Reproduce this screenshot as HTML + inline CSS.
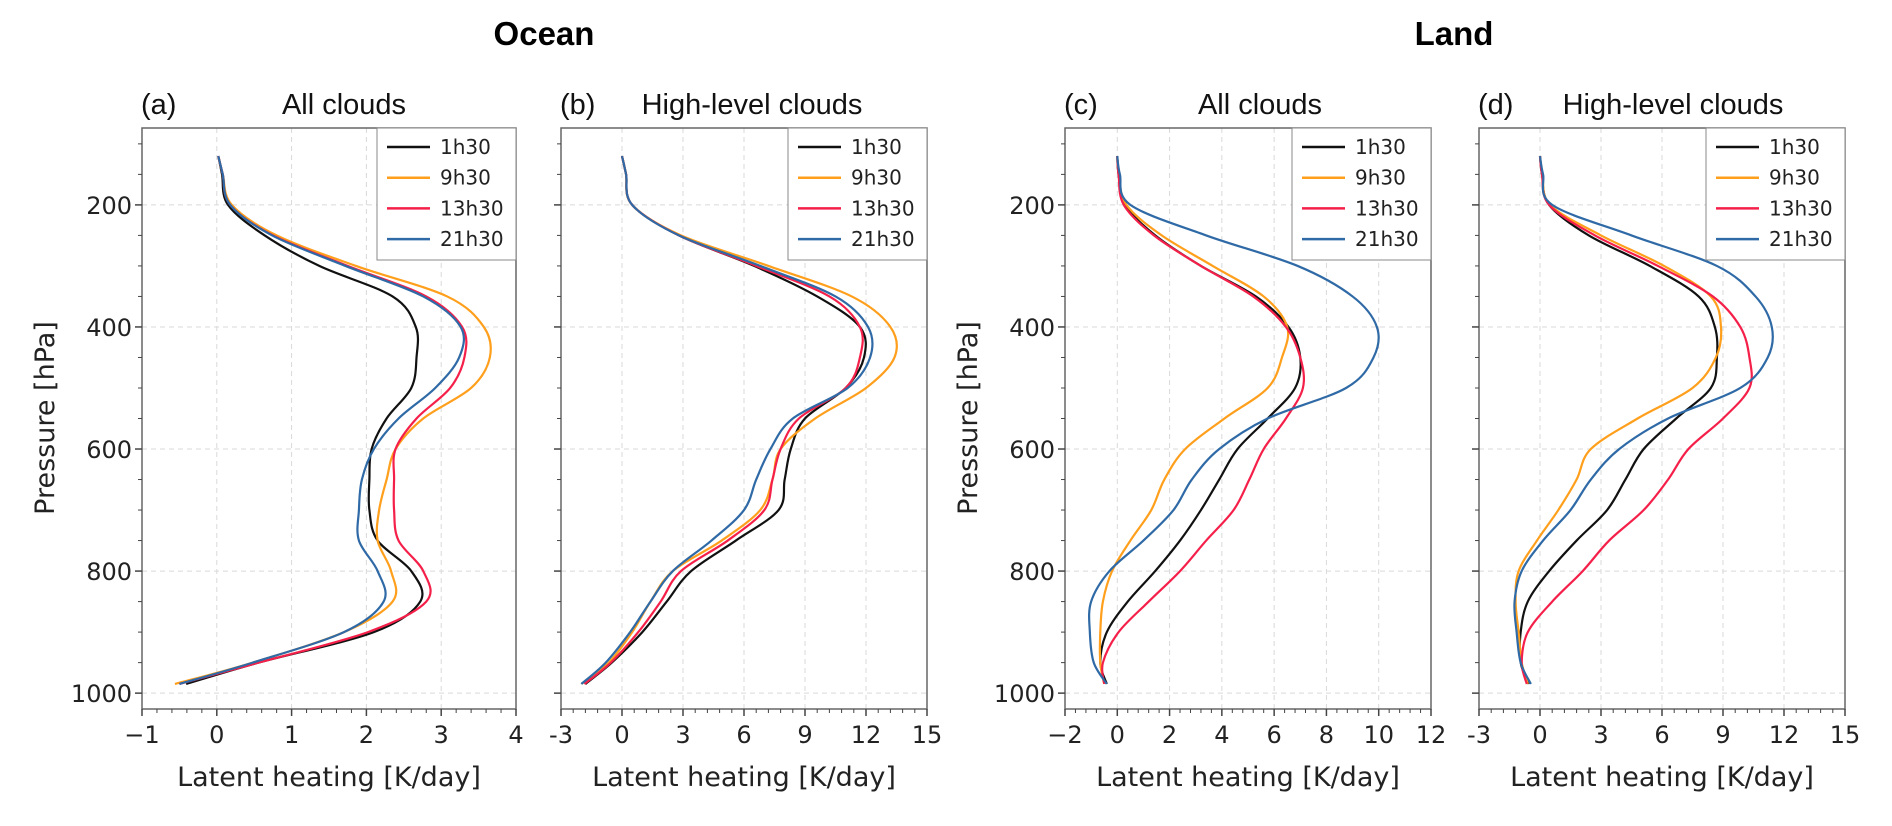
<!DOCTYPE html>
<html><head><meta charset="utf-8">
<style>
html,body{margin:0;padding:0;background:#fff;}
svg{display:block;}
.tick{font-family:"DejaVu Sans","Liberation Sans",sans-serif;font-size:24px;fill:#222;}
.axl{font-family:"DejaVu Sans","Liberation Sans",sans-serif;font-size:27px;fill:#222;}
.ttl{font-family:"Liberation Sans",sans-serif;font-size:29px;fill:#111;}
.big{font-family:"Liberation Sans",sans-serif;font-size:33px;font-weight:bold;fill:#000;}
.leg{font-family:"DejaVu Sans","Liberation Sans",sans-serif;font-size:20px;fill:#222;}
</style></head>
<body>
<svg id="fig" width="1892" height="826" viewBox="0 0 1892 826" xmlns="http://www.w3.org/2000/svg">
<text class="big" x="544" y="45" text-anchor="middle">Ocean</text>
<text class="big" x="1454" y="45" text-anchor="middle">Land</text>
</svg>
<script>
const pressure = [120,150,200,250,300,350,400,450,500,550,600,650,700,750,800,850,900,950,985];
const seriesNames = ["1h30","9h30","13h30","21h30"];
const seriesColors = ["#111111","#ff9f1c","#f5204a","#2f6aa6"];
const pressureTicks = [200,400,600,800,1000];

const a_1h30  = [0.02,0.07,0.15,0.64,1.37,2.35,2.66,2.67,2.6,2.27,2.07,2.04,2.04,2.15,2.6,2.72,2.1,0.56,-0.41];
const a_9h30  = [0.02,0.08,0.2,0.8,1.86,3.08,3.57,3.65,3.4,2.76,2.39,2.27,2.17,2.15,2.33,2.35,1.7,0.48,-0.56];
const a_13h30 = [0.02,0.08,0.18,0.75,1.75,2.8,3.28,3.31,3.12,2.67,2.39,2.37,2.37,2.43,2.76,2.8,2.02,0.56,-0.5];
const a_21h30 = [0.02,0.08,0.18,0.74,1.72,2.76,3.26,3.24,2.92,2.43,2.1,1.94,1.9,1.9,2.15,2.23,1.7,0.48,-0.5];

const b_1h30  = [0,0.2,0.5,2.8,6.5,9.6,11.7,11.9,11.0,9.0,8.3,8.0,7.7,5.6,3.4,2.2,1.0,-0.5,-1.8];
const b_9h30  = [0,0.2,0.5,2.9,7.2,11.3,13.2,13.4,12.0,9.5,7.8,7.4,6.8,4.9,2.5,1.4,0.5,-0.65,-2.0];
const b_13h30 = [0,0.2,0.5,2.8,6.6,10.2,11.7,11.7,11.0,8.7,7.8,7.4,7.0,5.2,2.9,1.9,0.8,-0.55,-1.85];
const b_21h30 = [0,0.2,0.5,2.8,6.8,10.5,12.1,12.2,11.1,8.4,7.3,6.6,6.0,4.4,2.5,1.4,0.4,-0.8,-2.0];

const c_1h30  = [0,0.05,0.3,1.45,3.2,5.3,6.55,7.0,6.8,5.75,4.6,3.9,3.2,2.4,1.45,0.4,-0.4,-0.65,-0.4];
const c_9h30  = [0,0.06,0.35,1.7,3.65,5.6,6.5,6.3,5.75,4.1,2.6,1.8,1.3,0.5,-0.2,-0.55,-0.65,-0.65,-0.5];
const c_13h30 = [0,0.05,0.25,1.4,3.2,5.2,6.45,7.0,7.1,6.45,5.6,5.05,4.45,3.4,2.4,1.2,0.05,-0.55,-0.5];
const c_21h30 = [0,0.1,0.5,3.4,6.9,9.0,9.93,9.8,8.75,5.75,3.9,2.85,2.15,1.0,-0.3,-1.0,-1.05,-0.9,-0.4];

const d_1h30  = [0,0.1,0.45,2.4,5.4,7.8,8.6,8.7,8.4,6.7,5.1,4.2,3.3,1.8,0.45,-0.6,-0.95,-0.95,-0.55];
const d_9h30  = [0,0.12,0.5,3.0,6.1,8.4,8.9,8.65,7.5,4.8,2.5,1.8,0.9,-0.15,-1.05,-1.2,-1.05,-0.9,-0.6];
const d_13h30 = [0,0.1,0.45,2.7,5.8,8.5,9.85,10.3,10.3,9.0,7.3,6.3,5.1,3.4,2.1,0.6,-0.6,-0.9,-0.65];
const d_21h30 = [0,0.15,0.6,4.5,8.7,10.6,11.4,11.2,9.85,6.3,3.9,2.5,1.5,0.15,-0.9,-1.25,-1.15,-0.95,-0.45];

const ticksA = [-1,0,1,2,3,4];
const ticksB = [-3,0,3,6,9,12,15];
const ticksC = [-2,0,2,4,6,8,10,12];
const ticksD = [-3,0,3,6,9,12,15];
const tickLabelsA = ["\u22121","0","1","2","3","4"];
const tickLabelsB = ["-3","0","3","6","9","12","15"];
const tickLabelsC = ["\u22122","0","2","4","6","8","10","12"];
const tickLabelsD = ["-3","0","3","6","9","12","15"];

const NS = "http://www.w3.org/2000/svg";
const svg = document.getElementById("fig");
function mk(tag, attrs, parent){
  const e = document.createElementNS(NS, tag);
  for (const k in attrs) e.setAttribute(k, attrs[k]);
  (parent||svg).appendChild(e);
  return e;
}
const TOP = 128, BOT = 709, P_TOP = 74, P_BOT = 1026;
function yScale(p){ return TOP + (p - P_TOP) / (P_BOT - P_TOP) * (BOT - TOP); }

function smoothPath(pts){
  let d = "M" + pts[0][0].toFixed(2) + "," + pts[0][1].toFixed(2);
  for (let i = 0; i < pts.length - 1; i++){
    const p0 = pts[i-1] || pts[i], p1 = pts[i], p2 = pts[i+1], p3 = pts[i+2] || p2;
    const c1 = [p1[0] + (p2[0]-p0[0])/6, p1[1] + (p2[1]-p0[1])/6];
    const c2 = [p2[0] - (p3[0]-p1[0])/6, p2[1] - (p3[1]-p1[1])/6];
    d += " C" + c1[0].toFixed(2) + "," + c1[1].toFixed(2) + " " + c2[0].toFixed(2) + "," + c2[1].toFixed(2) + " " + p2[0].toFixed(2) + "," + p2[1].toFixed(2);
  }
  return d;
}

function panel(cfg){
  const g = mk("g", {});
  
  
  const L = cfg.left, R = cfg.right;
  const xmin = cfg.ticks[0], xmax = cfg.ticks[cfg.ticks.length-1];
  const xScale = v => L + (v - xmin) / (xmax - xmin) * (R - L);
  cfg.ticks.forEach(t => {
    const x = xScale(t);
    const gl = mk("line", {x1:x, x2:x, y1:TOP, y2:BOT, stroke:"#d9d9d9", "stroke-width":1, "stroke-dasharray":"5,4"}, g);
    
    
  });
  pressureTicks.forEach(p => {
    const y = yScale(p);
    const gl = mk("line", {x1:L, x2:R, y1:y, y2:y, stroke:"#d9d9d9", "stroke-width":1, "stroke-dasharray":"5,4"}, g);
    
    
  });
  cfg.series.forEach((vals, i) => {
    const pts = vals.map((v, j) => [xScale(v), yScale(pressure[j])]);
    const path = mk("path", {d:smoothPath(pts), fill:"none", stroke:seriesColors[i], "stroke-width":2.2, "stroke-linejoin":"round"}, g);
    
    
  });
  const fr = mk("rect", {x:L, y:TOP, width:R-L, height:BOT-TOP, fill:"none", stroke:"#666", "stroke-width":1.5}, g);
  
  
  const step = cfg.ticks[1] - cfg.ticks[0];
  for (let i = 0; i < cfg.ticks.length; i++){
    const x = xScale(cfg.ticks[i]);
    mk("line", {x1:x, x2:x, y1:BOT, y2:BOT+7, stroke:"#444", "stroke-width":1.5}, g);
    const t = mk("text", {x:x, y:743, "text-anchor":"middle", class:"tick"}, g);
    t.textContent = cfg.tickLabels[i];
    
    
    if (i < cfg.ticks.length - 1){
      for (let k = 1; k < 5; k++){
        const xm = xScale(cfg.ticks[i] + step*k/5);
        mk("line", {x1:xm, x2:xm, y1:BOT, y2:BOT+4, stroke:"#444", "stroke-width":1}, g);
      }
    }
  }
  for (let p = 100; p <= 1000; p += 50){
    const y = yScale(p);
    const major = p % 200 === 0;
    mk("line", {x1:L, x2:L-(major?7:4), y1:y, y2:y, stroke:"#444", "stroke-width":major?1.5:1}, g);
    if (major && cfg.yLabels){
      const t = mk("text", {x:L-10, y:y+9, "text-anchor":"end", class:"tick"}, g);
      t.textContent = String(p);
      
      
    }
  }
  const xl = mk("text", {x:(L+R)/2, y:786, "text-anchor":"middle", class:"axl"}, g);
  xl.textContent = "Latent heating [K/day]";
  
  
  if (cfg.yLabels){
    const yx = cfg.yTitleX;
    const yl = mk("text", {x:yx, y:418, "text-anchor":"middle", class:"axl", transform:"rotate(-90 "+yx+" 418)"}, g);
    yl.textContent = "Pressure [hPa]";
    
    
  }
  const pl = mk("text", {x:L-1, y:114, class:"ttl"}, g);
  pl.textContent = cfg.letter;
  
  
  const st = mk("text", {x:cfg.titleX, y:114, "text-anchor":"middle", class:"ttl"}, g);
  st.textContent = cfg.title;
  
  
  const lg = mk("g", {}, g);
  
  
  mk("rect", {x:R-139, y:TOP, width:139, height:132, fill:"#fff", stroke:"#888", "stroke-width":1}, lg);
  seriesNames.forEach((n, i) => {
    const y = 147 + i*30.7;
    const ln = mk("line", {x1:R-129, x2:R-86, y1:y, y2:y, stroke:seriesColors[i], "stroke-width":2.5}, lg);
    
    
    const t = mk("text", {x:R-76, y:y+7, class:"leg"}, lg);
    t.textContent = n;
    
    
  });
}

panel({name:"panel-a", left:142, right:516, ticks:ticksA, tickLabels:tickLabelsA, series:[a_1h30,a_9h30,a_13h30,a_21h30], yLabels:true, yTitleX:54, letter:"(a)", title:"All clouds", titleX:344});
panel({name:"panel-b", left:561, right:927, ticks:ticksB, tickLabels:tickLabelsB, series:[b_1h30,b_9h30,b_13h30,b_21h30], yLabels:false, letter:"(b)", title:"High-level clouds", titleX:752});
panel({name:"panel-c", left:1065, right:1431, ticks:ticksC, tickLabels:tickLabelsC, series:[c_1h30,c_9h30,c_13h30,c_21h30], yLabels:true, yTitleX:977, letter:"(c)", title:"All clouds", titleX:1260});
panel({name:"panel-d", left:1479, right:1845, ticks:ticksD, tickLabels:tickLabelsD, series:[d_1h30,d_9h30,d_13h30,d_21h30], yLabels:false, letter:"(d)", title:"High-level clouds", titleX:1673});
</script>
</body></html>
